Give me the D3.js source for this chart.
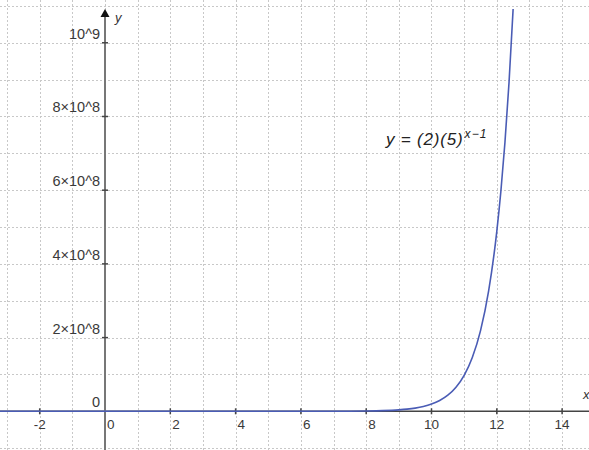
<!DOCTYPE html>
<html><head><meta charset="utf-8">
<script src="https://cdn.jsdelivr.net/npm/d3@7"></script>
<style>
html,body{margin:0;padding:0;background:#fff;}
svg{display:block;font-family:"Liberation Sans",Arial,sans-serif;}
</style></head>
<body>
<script>
// Data
const xTicks = [-2, 0, 2, 4, 6, 8, 10, 12, 14];
const xTickLabels = ["-2", "0", "2", "4", "6", "8", "10", "12", "14"];
const yTicks = [0, 2e8, 4e8, 6e8, 8e8, 1e9];
const yTickLabels = ["0", "2×10^8", "4×10^8", "6×10^8", "8×10^8", "10^9"];
const curveX = [-3.3, 0, 4, 6, 7, 7.5, 8, 8.5, 9, 9.25, 9.5, 9.75, 10, 10.25, 10.5, 10.75, 11, 11.25, 11.5, 11.75, 12, 12.125, 12.25, 12.375, 12.5];
const curveY = [0, 2, 1250, 31250, 156250, 349000, 781000, 1747000, 3906000, 5841000, 8735000, 13061000, 19531000, 29205000, 43673000, 65307000, 97656000, 146025000, 218366000, 326532000, 488281000, 597100000, 730100000, 892900000, 1091800000];
const labelText = "y = (2)(5)";
const labelSup = "x−1";

const W = 589, H = 450;
const svg = d3.select("body").append("svg").attr("width", W).attr("height", H);

const x = d3.scaleLinear().domain([-3.216, 14.824]).range([0, W]);
const y = d3.scaleLinear().domain([-1.050e8, 11.161e8]).range([H, 0]);

// grid
const gx = d3.range(-3, 15, 1);
const gy = d3.range(-1e8, 11.5e8, 1e8);
svg.append("g").selectAll("line").data(gx).join("line")
  .attr("x1", d => Math.round(x(d)) + 0.5).attr("x2", d => Math.round(x(d)) + 0.5)
  .attr("y1", 0).attr("y2", H)
  .attr("stroke", "#c8c8c8").attr("stroke-width", 1).attr("stroke-dasharray", "2,2");
svg.append("g").selectAll("line").data(gy).join("line")
  .attr("y1", d => Math.round(y(d)) + 0.5).attr("y2", d => Math.round(y(d)) + 0.5)
  .attr("x1", 0).attr("x2", W)
  .attr("stroke", "#c8c8c8").attr("stroke-width", 1).attr("stroke-dasharray", "2,2");

const axisColor = "#444";
const x0 = x(0), y0 = y(0);

// x axis
svg.append("line").attr("x1", 0).attr("x2", W).attr("y1", y0).attr("y2", y0)
  .attr("stroke", axisColor).attr("stroke-width", 1.5);
// y axis
svg.append("line").attr("x1", x0).attr("x2", x0).attr("y1", H).attr("y2", 14)
  .attr("stroke", "#777").attr("stroke-width", 2);
svg.append("path").attr("d", `M${x0},9 L${x0 - 4.5},17 L${x0 + 4.5},17 Z`).attr("fill", "#111");

// x ticks
svg.append("g").selectAll("line").data(xTicks.filter(d => d !== 0)).join("line")
  .attr("x1", d => x(d)).attr("x2", d => x(d)).attr("y1", y0 - 3).attr("y2", y0 + 3)
  .attr("stroke", axisColor).attr("stroke-width", 1.5);
svg.append("g").selectAll("text").data(xTicks).join("text")
  .attr("x", (d, i) => {
    const s = xTickLabels[i];
    if (d === 0) return x0 + 2;
    if (s.length === 1) return x(d) + 2;
    return x(d);
  })
  .attr("text-anchor", (d, i) => (xTickLabels[i].length === 1 ? "start" : "middle"))
  .attr("y", y0 + 18)
  .attr("font-size", 13.5).attr("fill", "#3a3a3a")
  .text((d, i) => xTickLabels[i]);

// y ticks
svg.append("g").selectAll("line").data(yTicks.filter(d => d !== 0)).join("line")
  .attr("x1", x0 - 3).attr("x2", x0 + 3).attr("y1", d => y(d)).attr("y2", d => y(d))
  .attr("stroke", axisColor).attr("stroke-width", 1.5);
svg.append("g").selectAll("text").data(yTicks).join("text")
  .attr("x", x0 - 5).attr("y", d => y(d) - 4)
  .attr("text-anchor", "end")
  .attr("font-size", 14.5).attr("fill", "#3a3a3a")
  .text((d, i) => yTickLabels[i]);

// axis names
svg.append("text").attr("x", x0 + 10).attr("y", 22).attr("font-size", 13)
  .attr("font-style", "italic").attr("fill", "#333").text("y");
svg.append("text").attr("x", W - 6).attr("y", y0 - 12).attr("font-size", 13)
  .attr("font-style", "italic").attr("fill", "#333").text("x");

// curve
const pts = curveX.map((d, i) => [d, curveY[i]]);
svg.append("path").datum(pts)
  .attr("d", d3.line().x(d => x(d[0])).y(d => y(d[1])).curve(d3.curveMonotoneX))
  .attr("fill", "none").attr("stroke", "#4a5cb5").attr("stroke-width", 1.6);

// function label
const lbl = svg.append("text").attr("x", 386).attr("y", 145)
  .attr("font-size", 17).attr("letter-spacing", 0.8).attr("font-style", "italic").attr("fill", "#222");
lbl.append("tspan").text(labelText);
lbl.append("tspan").attr("font-size", 12).attr("letter-spacing", 1.2).attr("dy", -7).attr("dx", 1).text(labelSup);
</script>
</body></html>
